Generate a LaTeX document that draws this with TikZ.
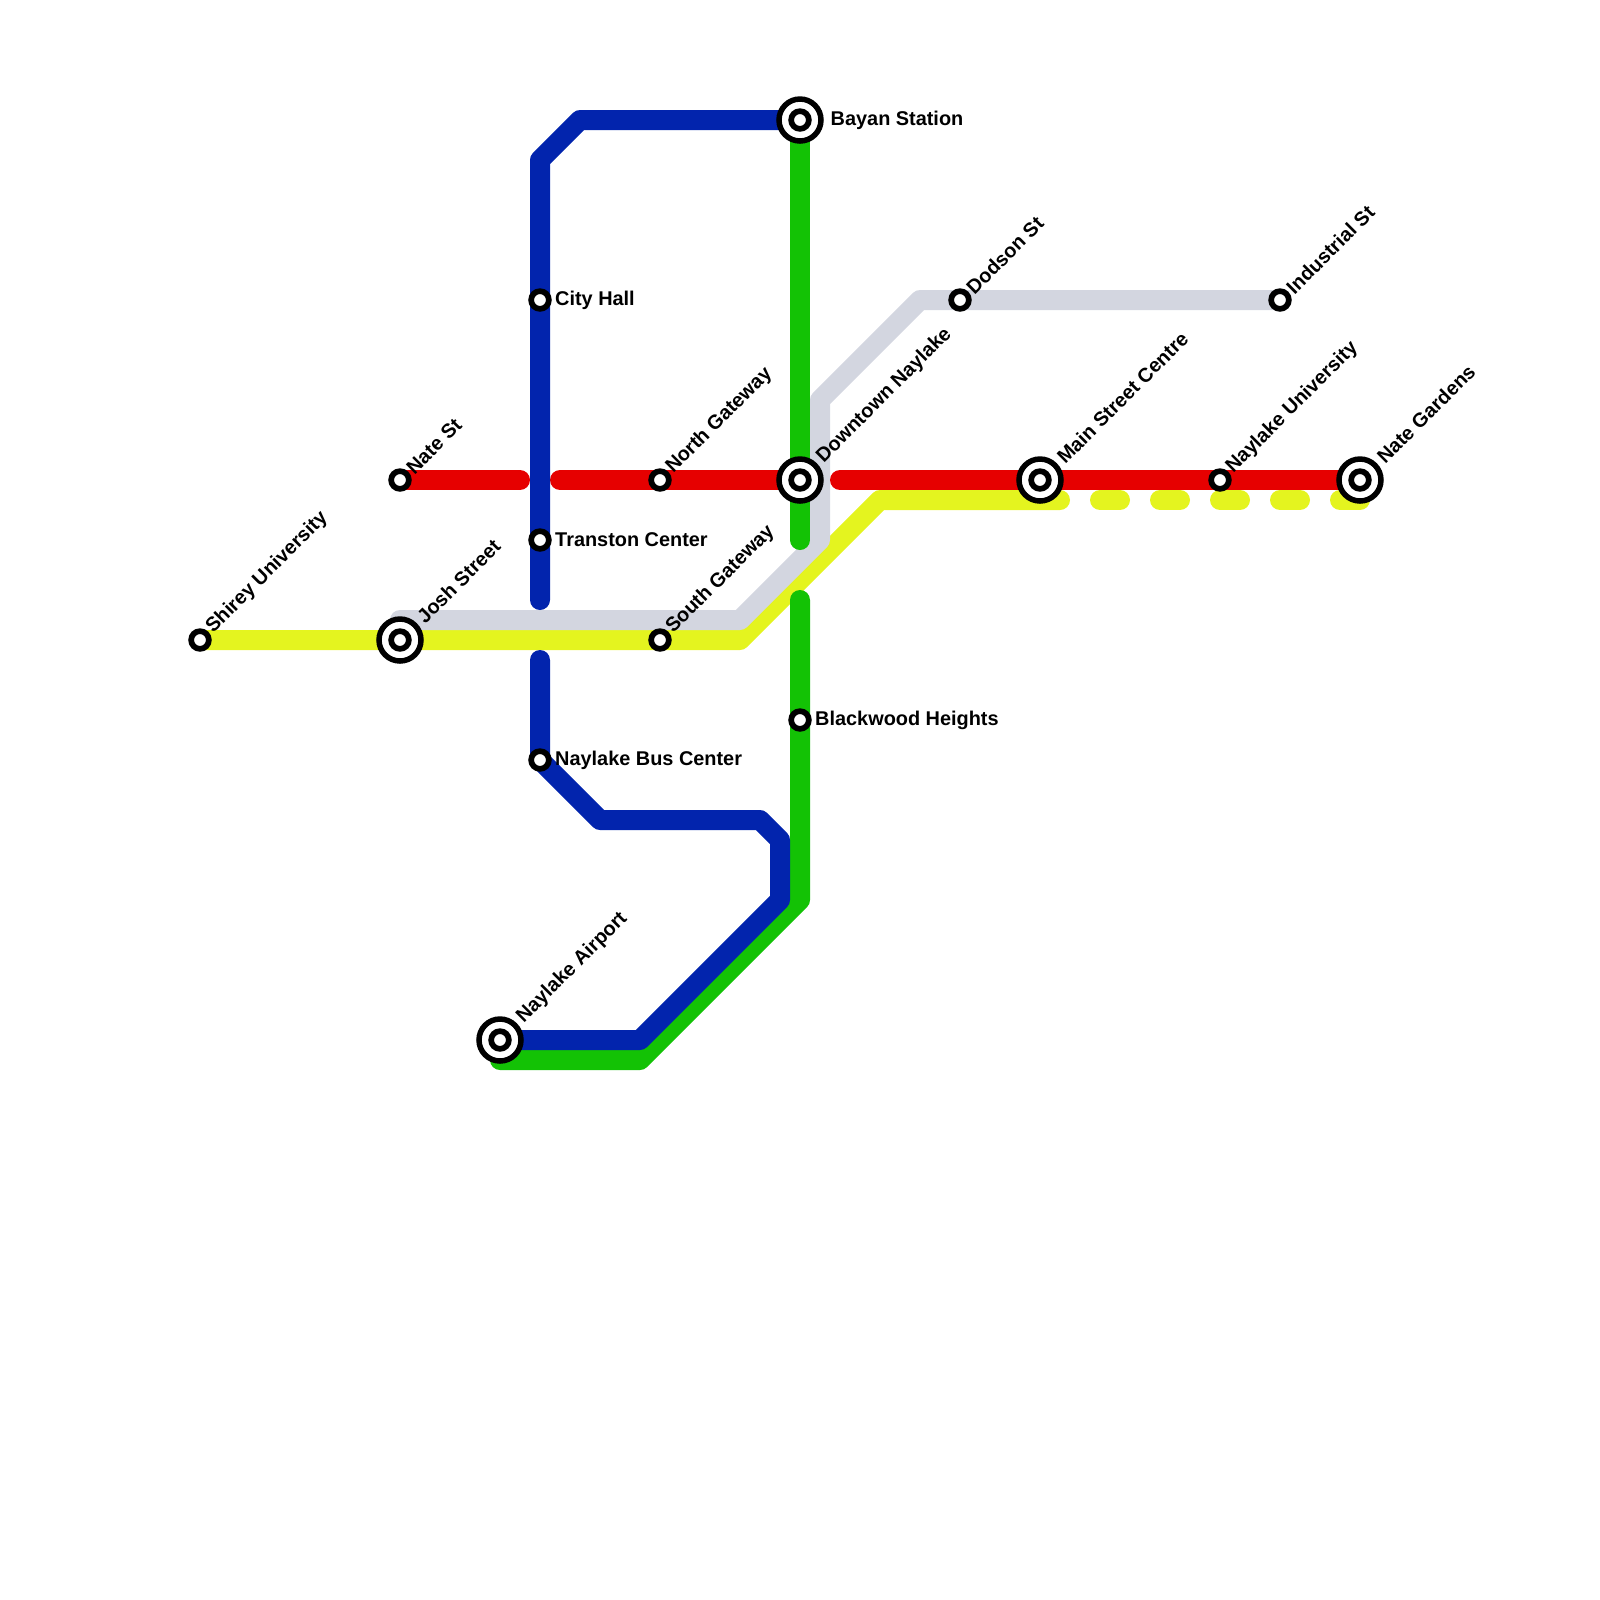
\documentclass[tikz,border=0pt]{standalone}
\usepackage{fontspec}
\setmainfont{Liberation Sans}
\definecolor{LineRed}{HTML}{E60000}
\definecolor{LineBlue}{HTML}{0224AD}
\definecolor{LineGreen}{HTML}{13C205}
\definecolor{LineYellow}{HTML}{E4F41F}
\definecolor{LineGrey}{HTML}{D3D6E0}
\tikzset{
	route/.style={line width=0.2cm, line cap=round, line join=round},
	smallstop/.style={circle, draw=black, fill=white, line width=0.057cm, minimum size=0.177cm, inner sep=0pt},
	bigring/.style={circle, draw=black, fill=white, line width=0.055cm, minimum size=0.42cm, inner sep=0pt},
	stopname/.style={font=\fontsize{5.66}{7}\selectfont\bfseries, inner sep=0pt, text=black},
	slanted/.style={stopname, rotate=45, anchor=west},
	level/.style={stopname, anchor=west},
}
\begin{document}
\begin{tikzpicture}[x=0.2cm,y=-0.2cm]
\useasboundingbox (0,0) rectangle (80,80);

% stops, in grid squares
\coordinate (shirey) at (10,32);
\coordinate (josh) at (20,32);
\coordinate (natest) at (20,24);
\coordinate (cityhall) at (27,15);
\coordinate (transton) at (27,27);
\coordinate (buscenter) at (27,38);
\coordinate (airport) at (25,52);
\coordinate (northgate) at (33,24);
\coordinate (southgate) at (33,32);
\coordinate (bayan) at (40,6);
\coordinate (downtown) at (40,24);
\coordinate (blackwood) at (40,36);
\coordinate (dodson) at (48,15);
\coordinate (mainst) at (52,24);
\coordinate (univ) at (61,24);
\coordinate (industrial) at (64,15);
\coordinate (gardens) at (68,24);

% yellow
\draw[route, LineYellow] (shirey) -- (37,32) -- (44,25) -- (53,25);
\draw[route, LineYellow, dash pattern=on 0.2cm off 0.4cm] (55,25) -- (68,25);

% grey
\draw[route, LineGrey] (20,31) -- (37,31) -- (41,27) -- (41,20) -- (46,15) -- (industrial);

% red
\draw[route, LineRed] (natest) -- (26,24);
\draw[route, LineRed] (28,24) -- (downtown);
\draw[route, LineRed] (42,24) -- (gardens);

% green
\draw[route, LineGreen] (bayan) -- (40,27);
\draw[route, LineGreen] (40,30) -- (40,45) -- (32,53) -- (25,53);

% blue
\draw[route, LineBlue] (bayan) -- (29,6) -- (27,8) -- (27,30);
\draw[route, LineBlue] (27,33) -- (buscenter) -- (30,41) -- (38,41) -- (39,42) -- (39,45) -- (32,52) -- (airport);

% small stops
\node[smallstop] (shireystop) at (shirey) {};
\node[smallstop] (natestop) at (natest) {};
\node[smallstop] (cityhallstop) at (cityhall) {};
\node[smallstop] (transtonstop) at (transton) {};
\node[smallstop] (buscenterstop) at (buscenter) {};
\node[smallstop] (northgatestop) at (northgate) {};
\node[smallstop] (southgatestop) at (southgate) {};
\node[smallstop] (blackwoodstop) at (blackwood) {};
\node[smallstop] (dodsonstop) at (dodson) {};
\node[smallstop] (univstop) at (univ) {};
\node[smallstop] (industrialstop) at (industrial) {};

% interchanges
\node[bigring] (joshring) at (josh) {};
\node[smallstop] (joshstop) at (josh) {};
\node[bigring] (airportring) at (airport) {};
\node[smallstop] (airportstop) at (airport) {};
\node[bigring] (bayanring) at (bayan) {};
\node[smallstop] (bayanstop) at (bayan) {};
\node[bigring] (downtownring) at (downtown) {};
\node[smallstop] (downtownstop) at (downtown) {};
\node[bigring] (mainstring) at (mainst) {};
\node[smallstop] (mainststop) at (mainst) {};
\node[bigring] (gardensring) at (gardens) {};
\node[smallstop] (gardensstop) at (gardens) {};

% names
\node[slanted, xshift=0.13cm] (shireyname) at (shirey) {Shirey University};
\node[slanted, xshift=0.13cm] (natename) at (natest) {Nate St};
\node[slanted, xshift=0.13cm] (northgatename) at (northgate) {North Gateway};
\node[slanted, xshift=0.13cm] (southgatename) at (southgate) {South Gateway};
\node[slanted, xshift=0.13cm] (dodsonname) at (dodson) {Dodson St};
\node[slanted, xshift=0.13cm] (univname) at (univ) {Naylake University};
\node[slanted, xshift=0.13cm] (industrialname) at (industrial) {Industrial St};
\node[slanted, xshift=0.28cm] (joshname) at (josh) {Josh Street};
\node[slanted, xshift=0.28cm] (airportname) at (airport) {Naylake Airport};
\node[slanted, xshift=0.28cm] (downtownname) at (downtown) {Downtown Naylake};
\node[slanted, xshift=0.28cm] (mainstname) at (mainst) {Main Street Centre};
\node[slanted, xshift=0.28cm] (gardensname) at (gardens) {Nate Gardens};
\node[level, xshift=0.145cm] (cityhallname) at (cityhall) {City Hall};
\node[level, xshift=0.145cm] (transtonname) at (transton) {Transton Center};
\node[level, xshift=0.145cm] (buscentername) at (buscenter) {Naylake Bus Center};
\node[level, xshift=0.145cm] (blackwoodname) at (blackwood) {Blackwood Heights};
\node[level, xshift=0.3cm] (bayanname) at (bayan) {Bayan Station};

\end{tikzpicture}
\end{document}
